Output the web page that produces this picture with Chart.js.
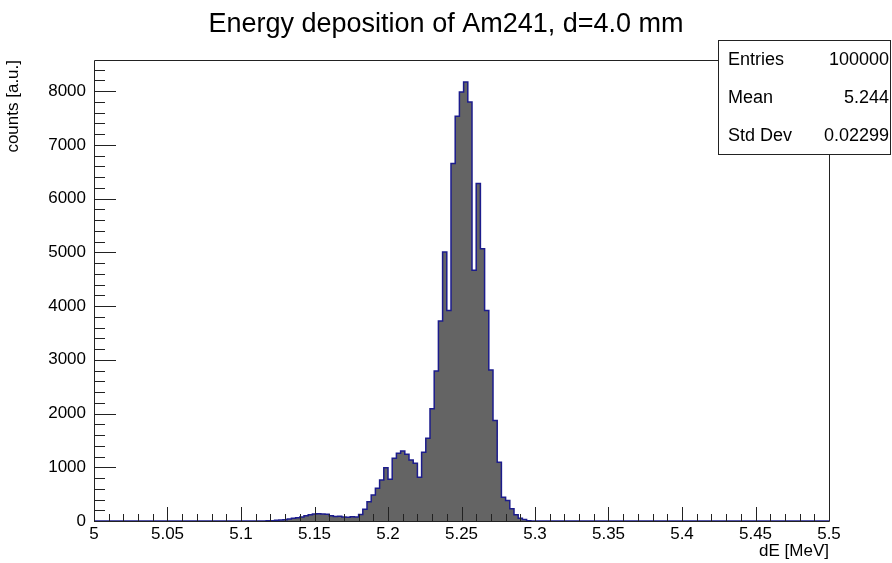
<!DOCTYPE html>
<html>
<head>
<meta charset="utf-8">
<script src="https://cdn.jsdelivr.net/npm/chart.js@4.4.1/dist/chart.umd.min.js"></script>
<style>
  html, body { margin: 0; padding: 0; background: #fff; }
</style>
</head>
<body>
<canvas id="hist" width="892" height="563"></canvas>
<script>
// Energy deposition of Am241 - histogram, 175 bins from 5 to 5.5 MeV

const xMin = 5.0;
const xMax = 5.5;
const nBins = 175;
const yMax = 8580;

// bin contents (counts per bin)
const counts = [
    0, 0, 0, 0, 0, 0, 0, 0, 0, 0, 0, 0, 0, 0, 0, 0, 0, 0, 0, 0, 0, 0, 0, 0, 0,
    0, 0, 0, 0, 0, 0, 0, 0, 0, 0, 0, 0, 0, 0, 0, 0, 3, 6, 12, 18, 25, 35, 50, 60, 75,
    100, 115, 130, 135, 130, 125, 100, 85, 90, 75, 70, 80, 75, 120, 218, 360, 484, 609, 763, 993, 776, 1167, 1260, 1303, 1241,
    1136, 1074, 813, 1279, 1540, 2089, 2790, 3721, 5006, 3920, 6652, 7533, 7985, 8171, 7799, 4665, 6280, 5069, 3920, 2812, 1872, 1095, 443, 382, 227,
    115, 52, 28, 5, 0, 0, 0, 0, 0, 0, 0, 0, 0, 0, 0, 0, 0, 0, 0, 0, 0, 0, 0, 0, 0,
    0, 0, 0, 0, 0, 0, 0, 0, 0, 0, 0, 0, 0, 0, 0, 0, 0, 0, 0, 0, 0, 0, 0, 0, 0,
    0, 0, 0, 0, 0, 0, 0, 0, 0, 0, 0, 0, 0, 0, 0, 0, 0, 0, 0, 0, 0, 0, 0, 0, 0
];

const xTickValues = [5, 5.05, 5.1, 5.15, 5.2, 5.25, 5.3, 5.35, 5.4, 5.45, 5.5];
const xTickLabels = ['5', '5.05', '5.1', '5.15', '5.2', '5.25', '5.3', '5.35', '5.4', '5.45', '5.5'];
const yTickValues = [0, 1000, 2000, 3000, 4000, 5000, 6000, 7000, 8000];
const yTickLabels = ['0', '1000', '2000', '3000', '4000', '5000', '6000', '7000', '8000'];

const statsLabels = ['Entries', 'Mean', 'Std Dev'];
const statsValues = ['100000', '5.244', '0.02299'];

const FONT = 'Liberation Sans, Arial, sans-serif';

// step points at the left edge of each bin, plus the closing edge
const binWidth = (xMax - xMin) / nBins;
const histPoints = counts.map((c, i) => ({ x: xMin + i * binWidth, y: c }));
histPoints.push({ x: xMax, y: counts[nBins - 1] });

// frame, inward ticks (ROOT style) and stats box
const rootFrame = {
    id: 'rootFrame',
    afterDatasetsDraw(chart) {
        const { ctx, chartArea: a, scales } = chart;
        const xs = scales.x, ys = scales.y;
        ctx.save();
        ctx.strokeStyle = '#222';
        ctx.lineWidth = 1;
        ctx.beginPath();
        ctx.rect(Math.round(a.left) + 0.5, Math.round(a.top) + 0.5,
                 Math.round(a.right - a.left), Math.round(a.bottom - a.top));
        // x ticks every 0.01, major every 0.05
        for (let i = 0; i <= 50; i++) {
            const px = Math.round(xs.getPixelForValue(xMin + i * 0.01)) + 0.5;
            const len = (i % 5 === 0) ? 14 : 7;
            ctx.moveTo(px, a.bottom);
            ctx.lineTo(px, a.bottom - len);
        }
        // y ticks every 200, major every 1000
        for (let v = 0; v <= yMax; v += 200) {
            const py = Math.round(ys.getPixelForValue(v)) + 0.5;
            const len = (v % 1000 === 0) ? 22 : 11;
            ctx.moveTo(a.left, py);
            ctx.lineTo(a.left + len, py);
        }
        ctx.stroke();
        ctx.restore();
    },
    afterDraw(chart) {
        const ctx = chart.ctx;
        ctx.save();
        ctx.fillStyle = '#fff';
        ctx.strokeStyle = '#222';
        ctx.lineWidth = 1;
        ctx.fillRect(718.5, 40.5, 172, 114);
        ctx.strokeRect(718.5, 40.5, 172, 114);
        ctx.fillStyle = '#000';
        ctx.font = '18px ' + FONT;
        ctx.textBaseline = 'middle';
        const rowY = [60, 98, 136];
        statsLabels.forEach((lab, i) => {
            ctx.textAlign = 'left';
            ctx.fillText(lab, 728, rowY[i]);
            ctx.textAlign = 'right';
            ctx.fillText(statsValues[i], 889, rowY[i]);
        });
        ctx.restore();
    }
};

const chart = new Chart(document.getElementById('hist'), {
    type: 'line',
    data: {
        datasets: [{
            label: 'dE',
            data: histPoints,
            stepped: 'before',
            borderColor: '#1c1c8c',
            borderWidth: 1.5,
            backgroundColor: '#646464',
            fill: 'origin',
            pointRadius: 0,
            tension: 0
        }]
    },
    options: {
        responsive: false,
        animation: false,
        devicePixelRatio: 1,
        layout: {
            padding: 0
        },
        plugins: {
            legend: { display: false },
            tooltip: { enabled: false },
            title: {
                display: true,
                text: 'Energy deposition of Am241, d=4.0 mm',
                color: '#000',
                font: { family: FONT, size: 27, weight: 'normal' },
                padding: { top: 8, bottom: 19.6 }
            }
        },
        scales: {
            x: {
                type: 'linear',
                min: xMin,
                max: xMax,
                grid: { display: false, drawTicks: false },
                border: { display: false },
                afterBuildTicks: s => { s.ticks = xTickValues.map(v => ({ value: v })); },
                afterFit: s => { s.height = 42; },
                ticks: {
                    color: '#000',
                    font: { family: FONT, size: 17 },
                    padding: 3,
                    maxRotation: 0,
                    autoSkip: false,
                    callback: (v, i) => xTickLabels[i]
                },
                title: {
                    display: true,
                    text: 'dE [MeV]',
                    align: 'end',
                    color: '#000',
                    font: { family: FONT, size: 17 },
                    padding: { top: 0, bottom: 1 }
                }
            },
            y: {
                min: 0,
                max: yMax,
                grid: { display: false, drawTicks: false },
                border: { display: false },
                afterBuildTicks: s => { s.ticks = yTickValues.map(v => ({ value: v })); },
                afterFit: s => { s.width = 94; },
                ticks: {
                    color: '#000',
                    font: { family: FONT, size: 17 },
                    padding: 8,
                    callback: (v, i) => yTickLabels[i]
                },
                title: {
                    display: true,
                    text: 'counts [a.u.]',
                    align: 'end',
                    color: '#000',
                    font: { family: FONT, size: 17 },
                    padding: { top: 3, bottom: 0 }
                }
            },
            // empty right-hand box so the plot ends at the same place as in ROOT
            yRight: {
                position: 'right',
                min: 0,
                max: 1,
                grid: { display: false, drawTicks: false },
                border: { display: false },
                ticks: { display: false },
                afterFit: s => { s.width = 63; }
            }
        }
    },
    plugins: [rootFrame]
});
</script>
</body>
</html>
